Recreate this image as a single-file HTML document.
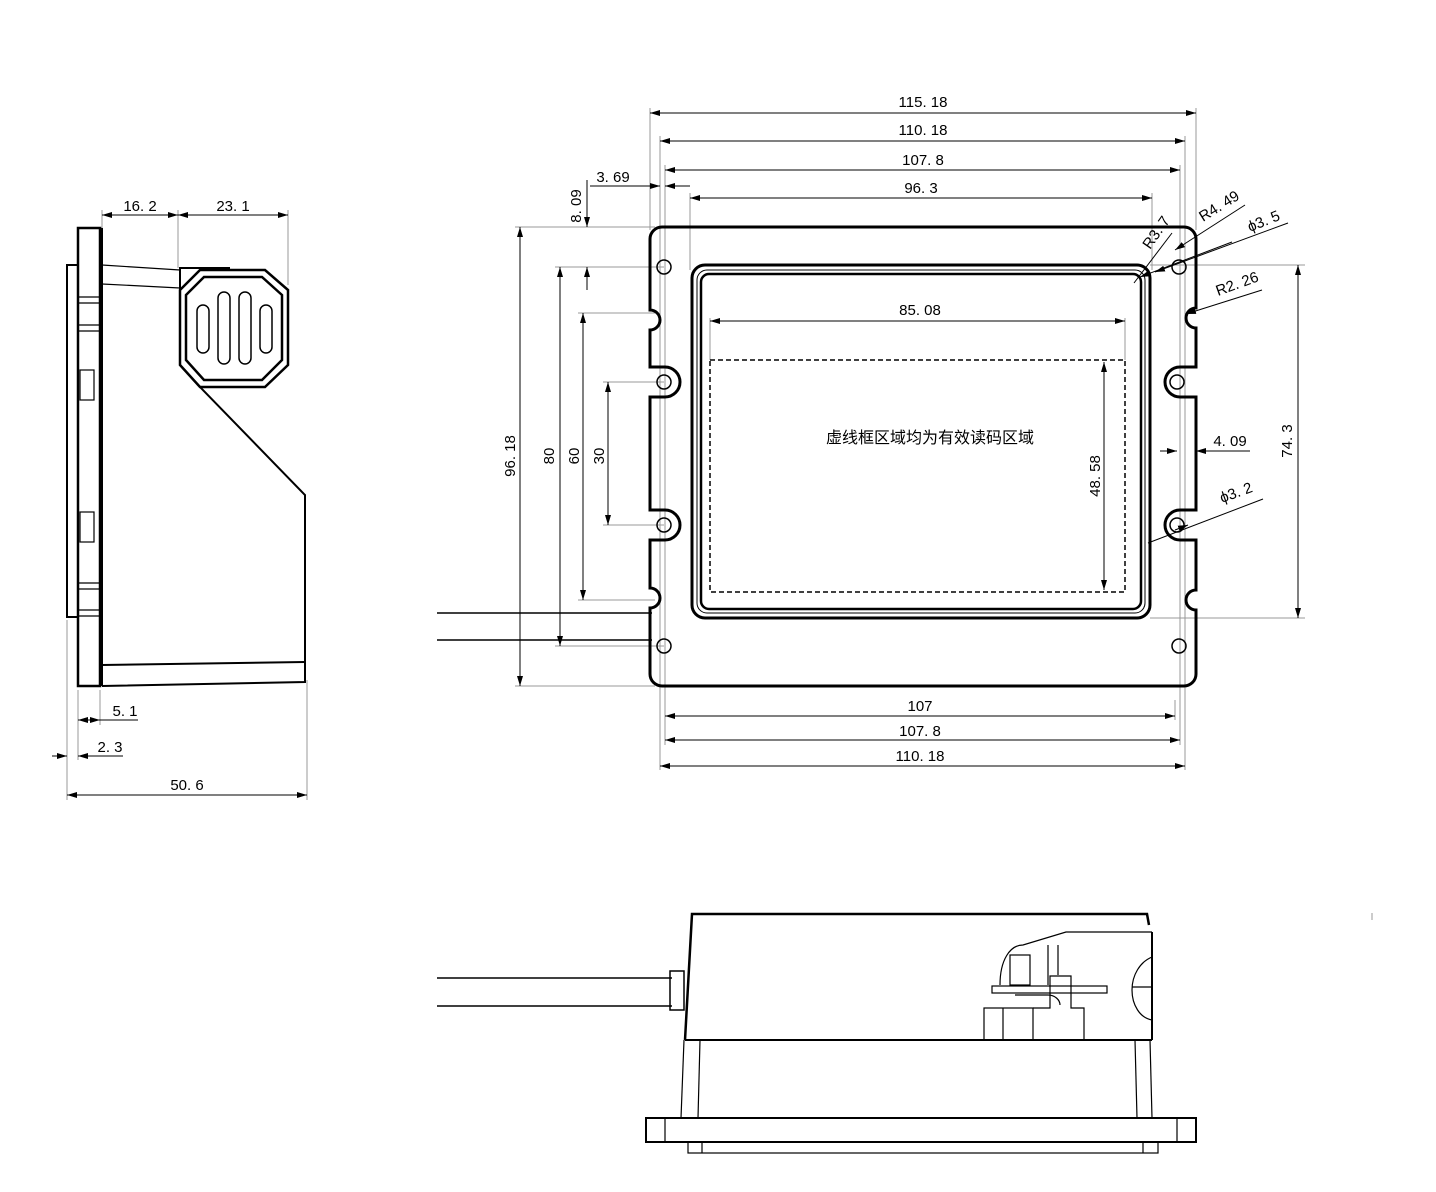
<!DOCTYPE html>
<html><head><meta charset="utf-8"><style>html,body{margin:0;background:#fff}svg{display:block}
text{font-family:"Liberation Sans","Noto Sans CJK SC",sans-serif;font-size:15px;fill:#000}</style></head>
<body>
<svg width="1436" height="1192" viewBox="0 0 1436 1192" xmlns="http://www.w3.org/2000/svg">
<defs>
<marker id="a" viewBox="0 0 10 6" refX="10" refY="3" markerWidth="10" markerHeight="6" orient="auto-start-reverse"><path d="M0,0L10,3L0,6z" fill="#000"/></marker>
</defs>
<!-- extension lines (grey) -->
<g stroke="#999" stroke-width="1" fill="none">
<line x1="650" y1="108" x2="650" y2="230"/><line x1="1196" y1="108" x2="1196" y2="230"/>
<line x1="660" y1="136" x2="660" y2="770"/><line x1="1185" y1="136" x2="1185" y2="770"/>
<line x1="665" y1="165" x2="665" y2="745"/><line x1="1180" y1="165" x2="1180" y2="745"/>
<line x1="690" y1="193" x2="690" y2="270"/><line x1="1152" y1="193" x2="1152" y2="270"/>
<line x1="1175" y1="700" x2="1175" y2="720"/>
<line x1="515" y1="227" x2="655" y2="227"/><line x1="515" y1="686" x2="655" y2="686"/>
<line x1="555" y1="267" x2="664" y2="267"/><line x1="555" y1="646" x2="664" y2="646"/>
<line x1="578" y1="313" x2="655" y2="313"/><line x1="578" y1="600" x2="655" y2="600"/>
<line x1="603" y1="382" x2="664" y2="382"/><line x1="603" y1="525" x2="664" y2="525"/>
<line x1="1150" y1="265" x2="1305" y2="265"/><line x1="1150" y1="618" x2="1305" y2="618"/>
<line x1="710" y1="318" x2="710" y2="360"/><line x1="1125" y1="318" x2="1125" y2="360"/>
<line x1="67" y1="620" x2="67" y2="800"/><line x1="78" y1="690" x2="78" y2="760"/><line x1="100" y1="690" x2="100" y2="725"/>
<line x1="307" y1="680" x2="307" y2="800"/>
<line x1="102" y1="210" x2="102" y2="228"/><line x1="178" y1="210" x2="178" y2="268"/><line x1="288" y1="210" x2="288" y2="285"/>
</g>
<!-- dimension lines -->
<g stroke="#000" stroke-width="1" fill="none">
<line x1="650" y1="113" x2="1196" y2="113" marker-start="url(#a)" marker-end="url(#a)"/>
<line x1="660" y1="141" x2="1185" y2="141" marker-start="url(#a)" marker-end="url(#a)"/>
<line x1="665" y1="170" x2="1180" y2="170" marker-start="url(#a)" marker-end="url(#a)"/>
<line x1="690" y1="198" x2="1152" y2="198" marker-start="url(#a)" marker-end="url(#a)"/>
<line x1="590" y1="186" x2="660" y2="186" marker-end="url(#a)"/><line x1="690" y1="186" x2="665" y2="186" marker-end="url(#a)"/>
<line x1="665" y1="716" x2="1175" y2="716" marker-start="url(#a)" marker-end="url(#a)"/>
<line x1="665" y1="740" x2="1180" y2="740" marker-start="url(#a)" marker-end="url(#a)"/>
<line x1="660" y1="766" x2="1185" y2="766" marker-start="url(#a)" marker-end="url(#a)"/>
<line x1="520" y1="227" x2="520" y2="686" marker-start="url(#a)" marker-end="url(#a)"/>
<line x1="560" y1="267" x2="560" y2="646" marker-start="url(#a)" marker-end="url(#a)"/>
<line x1="583" y1="313" x2="583" y2="600" marker-start="url(#a)" marker-end="url(#a)"/>
<line x1="608" y1="382" x2="608" y2="525" marker-start="url(#a)" marker-end="url(#a)"/>
<line x1="587" y1="180" x2="587" y2="227" marker-end="url(#a)"/><line x1="587" y1="290" x2="587" y2="267" marker-end="url(#a)"/>
<line x1="1298" y1="265" x2="1298" y2="618" marker-start="url(#a)" marker-end="url(#a)"/>
<line x1="710" y1="321" x2="1125" y2="321" marker-start="url(#a)" marker-end="url(#a)"/>
<line x1="1104" y1="362" x2="1104" y2="590" marker-start="url(#a)" marker-end="url(#a)"/>
<line x1="1160" y1="451" x2="1177" y2="451" marker-end="url(#a)"/><line x1="1250" y1="451" x2="1196" y2="451" marker-end="url(#a)"/>
<line x1="1140" y1="277" x2="1232" y2="242" marker-start="url(#a)"/>
<line x1="1175" y1="250" x2="1245" y2="205" marker-start="url(#a)"/>
<line x1="1155" y1="272" x2="1288" y2="223" marker-start="url(#a)"/>
<line x1="1186" y1="314" x2="1262" y2="290" marker-start="url(#a)"/>
<line x1="1148" y1="543" x2="1263" y2="499"/><line x1="1188" y1="525" x2="1175" y2="530" marker-start="url(#a)"/>
<line x1="1134" y1="283" x2="1172" y2="233"/>
<line x1="102" y1="215" x2="178" y2="215" marker-start="url(#a)" marker-end="url(#a)"/>
<line x1="178" y1="215" x2="288" y2="215" marker-start="url(#a)" marker-end="url(#a)"/>
<line x1="78" y1="720" x2="100" y2="720" marker-start="url(#a)" marker-end="url(#a)"/><line x1="100" y1="720" x2="138" y2="720"/>
<line x1="52" y1="756" x2="67" y2="756" marker-end="url(#a)"/><line x1="100" y1="756" x2="78" y2="756" marker-end="url(#a)"/><line x1="78" y1="756" x2="123" y2="756"/>
<line x1="67" y1="795" x2="307" y2="795" marker-start="url(#a)" marker-end="url(#a)"/>
</g>
<!-- labels -->
<text x="923" y="107" text-anchor="middle">115. 18</text>
<text x="923" y="135" text-anchor="middle">110. 18</text>
<text x="923" y="165" text-anchor="middle">107. 8</text>
<text x="921" y="193" text-anchor="middle">96. 3</text>
<text x="613" y="182" text-anchor="middle">3. 69</text>
<text x="920" y="315" text-anchor="middle">85. 08</text>
<text x="920" y="711" text-anchor="middle">107</text>
<text x="920" y="736" text-anchor="middle">107. 8</text>
<text x="920" y="761" text-anchor="middle">110. 18</text>
<text x="1230" y="446" text-anchor="middle">4. 09</text>
<text transform="translate(515,456) rotate(-90)" text-anchor="middle">96. 18</text>
<text transform="translate(554,456) rotate(-90)" text-anchor="middle">80</text>
<text transform="translate(579,456) rotate(-90)" text-anchor="middle">60</text>
<text transform="translate(604,456) rotate(-90)" text-anchor="middle">30</text>
<text transform="translate(581,206) rotate(-90)" text-anchor="middle">8. 09</text>
<text transform="translate(1292,441) rotate(-90)" text-anchor="middle">74. 3</text>
<text transform="translate(1100,476) rotate(-90)" text-anchor="middle">48. 58</text>
<text transform="translate(1203,222) rotate(-32)">R4. 49</text>
<text transform="translate(1250,232) rotate(-22)">ϕ3. 5</text>
<text transform="translate(1218,296) rotate(-20)">R2. 26</text>
<text transform="translate(1222,503) rotate(-20)">ϕ3. 2</text>
<text transform="translate(1150,250) rotate(-55)">R3. 7</text>
<text x="930" y="443" text-anchor="middle" style="font-size:16px">虚线框区域均为有效读码区域</text>
<text x="140" y="211" text-anchor="middle">16. 2</text>
<text x="233" y="211" text-anchor="middle">23. 1</text>
<text x="125" y="716" text-anchor="middle">5. 1</text>
<text x="110" y="752" text-anchor="middle">2. 3</text>
<text x="187" y="790" text-anchor="middle">50. 6</text>
<!-- front view -->
<g stroke="#000" fill="none">
<line x1="437" y1="613" x2="652" y2="613" stroke-width="1.5"/>
<line x1="437" y1="640" x2="652" y2="640" stroke-width="1.5"/>
<path stroke-width="3" d="M650,239 A12,12 0 0 1 662,227 H1184 A12,12 0 0 1 1196,239 V308 A10,10 0 0 0 1196,328 V367 H1180 A15,15 0 0 0 1180,397 H1196 V510 H1180 A15,15 0 0 0 1180,540 H1196 V590 A10,10 0 0 0 1196,610 V674 A12,12 0 0 1 1184,686 H662 A12,12 0 0 1 650,674 V608 A10,10 0 0 0 650,588 V540 H665 A15,15 0 0 0 665,510 H650 V397 H665 A15,15 0 0 0 665,367 H650 V330 A10,10 0 0 0 650,310 Z"/>
<g stroke-width="1.5">
<circle cx="664" cy="267" r="7"/><circle cx="664" cy="382" r="7"/><circle cx="664" cy="525" r="7"/><circle cx="664" cy="646" r="7"/>
<circle cx="1179" cy="267" r="7"/><circle cx="1177" cy="382" r="7"/><circle cx="1177" cy="525" r="7"/><circle cx="1179" cy="646" r="7"/>
</g>
<rect x="692" y="265" width="458" height="353" rx="13" stroke-width="3"/>
<rect x="697" y="270" width="448" height="343" rx="10" stroke-width="1"/>
<rect x="701" y="274" width="440" height="335" rx="8" stroke-width="2.5"/>
<rect x="710" y="360" width="415" height="232" stroke-width="1.5" stroke-dasharray="5,3"/>
</g>
<!-- side view -->
<g stroke="#000" fill="none">
<rect x="67" y="265" width="11" height="352" stroke-width="2"/>
<path d="M78,228 H100 V686 H78 Z" stroke-width="2.5"/>
<line x1="102" y1="228" x2="102" y2="686" stroke-width="2"/>
<g stroke-width="1.2">
<line x1="78" y1="297" x2="100" y2="297"/><line x1="78" y1="303" x2="100" y2="303"/>
<line x1="78" y1="325" x2="100" y2="325"/><line x1="78" y1="331" x2="100" y2="331"/>
<line x1="78" y1="583" x2="100" y2="583"/><line x1="78" y1="589" x2="100" y2="589"/>
<line x1="78" y1="610" x2="100" y2="610"/><line x1="78" y1="616" x2="100" y2="616"/>
<rect x="80" y="370" width="14" height="30"/><rect x="80" y="512" width="14" height="30"/>
<line x1="102" y1="265" x2="180" y2="270"/><line x1="102" y1="284" x2="180" y2="288"/>
<line x1="180" y1="268" x2="180" y2="365"/>
</g>
<path d="M102,686 L305,682 V495 L198,385 L180,365 V268 H230" stroke-width="2"/>
<line x1="102" y1="665" x2="305" y2="662" stroke-width="2"/>
<line x1="198" y1="385" x2="305" y2="495" stroke-width="1"/>
<path d="M200,270 H265 L288,290 V365 L265,387 H200 L180,365 V290 Z" stroke-width="2.5"/>
<path d="M204,277 H262 L282,295 V360 L262,380 H204 L186,360 V295 Z" stroke-width="2.5"/>
<g stroke-width="1.5">
<rect x="197" y="305" width="12" height="48" rx="6"/><rect x="218" y="292" width="12" height="72" rx="6"/>
<rect x="239" y="292" width="12" height="72" rx="6"/><rect x="260" y="305" width="12" height="48" rx="6"/>
</g>
</g>
<!-- bottom view -->
<g stroke="#000" fill="none">
<line x1="437" y1="978" x2="672" y2="978" stroke-width="1.5"/>
<line x1="437" y1="1006" x2="672" y2="1006" stroke-width="1.5"/>
<rect x="670" y="971" width="14" height="39" stroke-width="1.5"/>
<path d="M685,1040 L692,914 H1147 L1149,925" stroke-width="2.5"/>
<line x1="685" y1="1040" x2="1152" y2="1040" stroke-width="2"/>
<line x1="1152" y1="932" x2="1152" y2="1040" stroke-width="2"/>
<g stroke-width="1.2">
<line x1="684" y1="1040" x2="681" y2="1118"/><line x1="700" y1="1040" x2="698" y2="1118"/>
<line x1="1135" y1="1040" x2="1137" y2="1118"/><line x1="1150" y1="1040" x2="1152" y2="1118"/>
<rect x="646" y="1118" width="550" height="24" stroke-width="2"/>
<line x1="665" y1="1118" x2="665" y2="1142"/><line x1="1177" y1="1118" x2="1177" y2="1142"/>
<rect x="688" y="1142" width="470" height="11"/>
<line x1="702" y1="1142" x2="702" y2="1153"/><line x1="1143" y1="1142" x2="1143" y2="1153"/>
<path d="M1152,932 H1066 L1023,945 C1010,945 1000,960 1000,985"/>
<rect x="1010" y="955" width="20" height="30"/>
<line x1="1048" y1="945" x2="1048" y2="985"/><line x1="1058" y1="945" x2="1058" y2="975"/>
<rect x="992" y="986" width="115" height="7"/>
<path d="M1015,995 H1048 C1055,995 1060,1000 1060,1005"/>
<rect x="984" y="1008" width="49" height="32"/><line x1="1003" y1="1008" x2="1003" y2="1040"/>
<path d="M1033,1008 H1050 V976 H1071 V1008 H1084 V1040"/>
<path d="M1152,957 C1140,962 1132,975 1132,990 C1132,1005 1140,1018 1152,1020"/>
<line x1="1132" y1="987" x2="1152" y2="987"/>
</g>
</g>
<line x1="1372" y1="913" x2="1372" y2="920" stroke="#999"/>
</svg>
</body></html>
